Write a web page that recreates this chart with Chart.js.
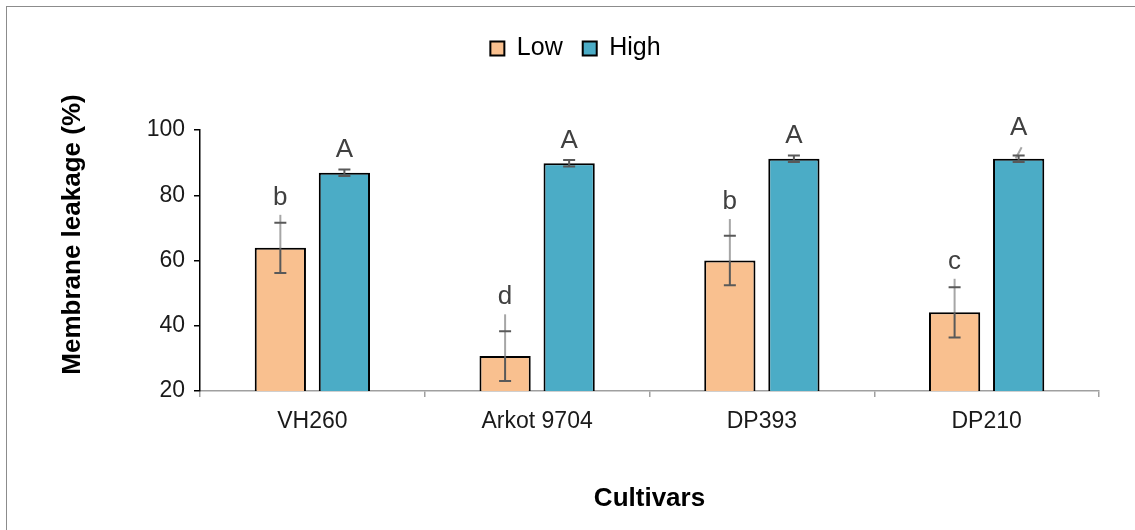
<!DOCTYPE html>
<html>
<head>
<meta charset="utf-8">
<script src="https://cdn.jsdelivr.net/npm/chart.js@4.4.1/dist/chart.umd.min.js"></script>
<style>
  body { margin: 0; background: #fff; }
  #frame { position: absolute; left: 6px; top: 6px; width: 1300px; height: 700px; border: 1.5px solid #8c8c8c; }
  #wrap { position: absolute; left: 0; top: 0; width: 1135px; height: 530px; }
</style>
</head>
<body>
<div id="frame"></div>
<div id="wrap"><canvas id="chart" width="1135" height="530"></canvas></div>
<script>
// ---------------------------------------------------------------------
// DATA
// ---------------------------------------------------------------------
const categories = ['VH260', 'Arkot 9704', 'DP393', 'DP210'];
const lowMeans = [63.9, 30.7, 60.0, 44.1];
const lowErr = [7.7, 7.6, 7.6, 7.7];
const lowExt = [74.0, 43.5, 72.7, 54.4];      // light grey whisker tops
const highMeans = [86.9, 89.8, 91.2, 91.2];
const highErr = [1.0, 1.0, 1.0, 1.0];
const highExt = [null, null, null, 94.7];
const lowLetters = ['b', 'd', 'b', 'c'];
const highLetters = ['A', 'A', 'A', 'A'];
const yTicks = [20, 40, 60, 80, 100];
const yTitle = 'Membrane leakage (%)';

const FONT = 'Liberation Sans, Arial, sans-serif';

// error bars + significance letters, drawn through the scales
const errorBars = {
    id: 'errorBars',
    afterDatasetsDraw(chart) {
        const ctx = chart.ctx;
        const y = chart.scales.y;
        const sets = [
            { means: lowMeans, err: lowErr, ext: lowExt, letters: lowLetters, gap: 10 },
            { means: highMeans, err: highErr, ext: highExt, letters: highLetters, gap: 12 }
        ];
        ctx.save();
        sets.forEach((s, di) => {
            const meta = chart.getDatasetMeta(di);
            meta.data.forEach((bar, i) => {
                const x = bar.x;
                const yTop = y.getPixelForValue(s.means[i] + s.err[i]);
                const yBot = y.getPixelForValue(s.means[i] - s.err[i]);
                let markTop = yTop;
                // light grey extension
                if (s.ext[i] != null) {
                    const yExt = y.getPixelForValue(s.ext[i]);
                    ctx.strokeStyle = '#a6a6a6';
                    ctx.lineWidth = 2;
                    ctx.beginPath();
                    if (di === 0) {
                        ctx.moveTo(x, yExt);
                        ctx.lineTo(x, bar.y);
                    } else {
                        ctx.moveTo(x + 3, yExt);
                        ctx.lineTo(x - 3, yTop + 3);
                    }
                    ctx.stroke();
                    markTop = Math.min(markTop, yExt);
                }
                // dark error bar with caps
                ctx.strokeStyle = '#595959';
                ctx.lineWidth = 2;
                ctx.beginPath();
                ctx.moveTo(x, di === 0 ? bar.y : yTop);
                ctx.lineTo(x, yBot);
                ctx.moveTo(x - 6, yTop); ctx.lineTo(x + 6, yTop);
                ctx.moveTo(x - 6, yBot); ctx.lineTo(x + 6, yBot);
                ctx.stroke();
                // letter
                ctx.fillStyle = '#404040';
                ctx.font = '26px ' + FONT;
                ctx.textAlign = 'center';
                ctx.textBaseline = 'alphabetic';
                ctx.fillText(s.letters[i], x, markTop - s.gap);
            });
        });
        // y axis title, sits a little above the plot centre like the original
        ctx.translate(73, (chart.chartArea.top + chart.chartArea.bottom) / 2 - 26);
        ctx.rotate(-Math.PI / 2);
        ctx.fillStyle = '#000';
        ctx.font = 'bold 26px ' + FONT;
        ctx.textAlign = 'center';
        ctx.textBaseline = 'middle';
        ctx.fillText(yTitle, 0, 0);
        ctx.restore();
    }
};

// extra space under the legend, and shift it a bit right
const legendSpace = {
    id: 'legendSpace',
    beforeUpdate(chart) {
        const lg = chart.legend;
        if (lg && !lg._spaced) {
            const fit = lg.fit;
            lg.fit = function () { fit.call(this); this.height += 59; };
            lg._spaced = true;
        }
    },
    afterLayout(chart) {
        const lg = chart.legend;
        if (lg) { lg.left += 26; lg.right += 26; }
    }
};

new Chart(document.getElementById('chart'), {
    type: 'bar',
    data: {
        labels: categories,
        datasets: [{
            label: 'Low',
            data: lowMeans,
            backgroundColor: '#F9C08F',
            borderColor: '#000',
            borderWidth: 2,
            categoryPercentage: 0.57,
            barPercentage: 0.8
        }, {
            label: 'High',
            data: highMeans,
            backgroundColor: '#4BACC6',
            borderColor: '#000',
            borderWidth: 2,
            categoryPercentage: 0.57,
            barPercentage: 0.8
        }]
    },
    options: {
        responsive: false,
        animation: false,
        layout: { padding: { top: 16, right: 36, left: 0, bottom: 0 } },
        plugins: {
            legend: {
                position: 'top',
                labels: {
                    color: '#000',
                    font: { family: FONT, size: 25 },
                    boxWidth: 14,
                    boxHeight: 14,
                    padding: 20
                }
            },
            tooltip: { enabled: false }
        },
        scales: {
            x: {
                afterFit: s => { s.height = 139; },
                border: { color: '#a0a0a0', width: 1.5 },
                grid: { offset: true, drawOnChartArea: false, drawTicks: true, tickLength: 6, color: '#a0a0a0', lineWidth: 1.5 },
                ticks: { color: '#1a1a1a', font: { family: FONT, size: 23 }, padding: 11 },
                title: {
                    display: true, text: 'Cultivars', color: '#000',
                    font: { family: FONT, size: 26, weight: 'bold' },
                    padding: { top: 0, bottom: 16 }
                }
            },
            y: {
                min: 20, max: 100,
                afterFit: s => { s.width = 200; },
                afterBuildTicks: s => { s.ticks = yTicks.map(v => ({ value: v })); },
                border: { color: '#000', width: 1.5 },
                grid: { drawOnChartArea: false, drawTicks: true, tickLength: 6, color: '#000', lineWidth: 1.5 },
                ticks: { color: '#1a1a1a', font: { family: FONT, size: 23 }, padding: 9 }
            }
        }
    },
    plugins: [errorBars, legendSpace]
});
</script>
</body>
</html>
